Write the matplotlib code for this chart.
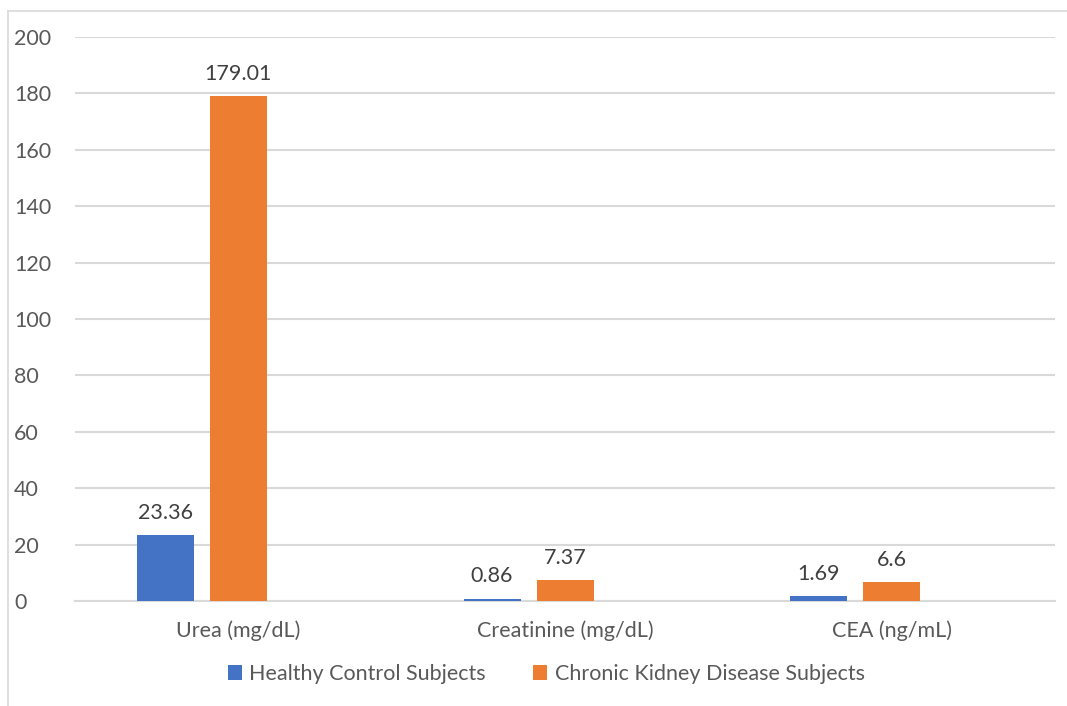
import matplotlib.pyplot as plt
from matplotlib.lines import Line2D
import numpy as np

# Data
categories = ['Urea (mg/dL)', 'Creatinine (mg/dL)', 'CEA (ng/mL)']
healthy = [23.36, 0.86, 1.69]
ckd = [179.01, 7.37, 6.6]
healthy_labels = ['23.36', '0.86', '1.69']
ckd_labels = ['179.01', '7.37', '6.6']
series_names = ['Healthy Control Subjects', 'Chronic Kidney Disease Subjects']

BLUE = '#4472C4'
ORANGE = '#ED7D31'
GRID = '#D9D9D9'
TICK_COLOR = '#595959'
LABEL_COLOR = '#404040'

plt.rcParams['font.family'] = ['Lato', 'DejaVu Sans']

fig = plt.figure(figsize=(10.67, 7.06), dpi=100)
ax = fig.add_axes([0.0703, 0.1487, 0.9185, 0.7989])

x = np.arange(len(categories))
slot = 0.2235   # spacing between series slots (third slot is empty, as in Excel)
width = 0.1745

b1 = ax.bar(x - slot, healthy, width, color=BLUE, label=series_names[0], zorder=3)
b2 = ax.bar(x, ckd, width, color=ORANGE, label=series_names[1], zorder=3)

for bars, labels in ((b1, healthy_labels), (b2, ckd_labels)):
    for rect, txt in zip(bars, labels):
        ax.annotate(txt, (rect.get_x() + rect.get_width() / 2, rect.get_height()),
                    xytext=(0, 9), textcoords='offset points',
                    ha='center', va='bottom', fontsize=15.5, color=LABEL_COLOR)

ax.set_xlim(-0.5, 2.5)
ax.set_ylim(0, 200)
ax.set_yticks(range(0, 201, 20))
ax.yaxis.grid(True, color=GRID, linewidth=1.5, zorder=0)
ax.set_axisbelow(True)
ax.set_xticks(x)
ax.set_xticklabels(categories)
ax.tick_params(axis='both', length=0, labelsize=15.5, labelcolor=TICK_COLOR)
ax.tick_params(axis='x', pad=14)
ax.tick_params(axis='y', pad=44)
for lbl in ax.get_yticklabels():
    lbl.set_horizontalalignment('left')
for side in ('top', 'right', 'left'):
    ax.spines[side].set_visible(False)
ax.spines['bottom'].set_color(GRID)
ax.spines['bottom'].set_linewidth(1.5)

fig.legend(handles=[b1, b2], labels=series_names, loc='center',
           bbox_to_anchor=(0.512, 0.045), ncol=2, frameon=False,
           fontsize=15.5, labelcolor=TICK_COLOR, handlelength=0.65,
           handleheight=0.65, handletextpad=0.35, columnspacing=2.2)

# chart area border (only left and top edges visible in the crop)
fig.add_artist(Line2D([7.5 / 1067, 7.5 / 1067], [0, 1 - 11 / 706],
                      transform=fig.transFigure, color=GRID, linewidth=1.2))
fig.add_artist(Line2D([7.5 / 1067, 1], [1 - 11 / 706, 1 - 11 / 706],
                      transform=fig.transFigure, color=GRID, linewidth=1.2))

fig.savefig('out.png', dpi=100)
